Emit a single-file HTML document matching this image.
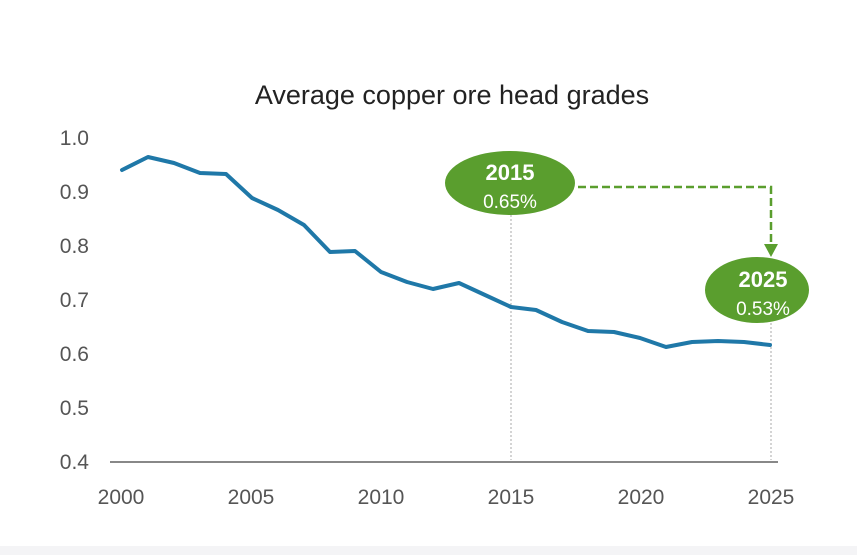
<!DOCTYPE html>
<html><head><meta charset="utf-8"><style>
html,body{margin:0;padding:0;background:#fff;}
svg{display:block;font-family:"Liberation Sans",Arial,sans-serif;}
</style></head><body>
<svg width="857" height="555" viewBox="0 0 857 555" xmlns="http://www.w3.org/2000/svg">
<rect x="0" y="0" width="857" height="555" fill="#fff"/>
<rect x="0" y="546" width="857" height="9" fill="#f4f4f6"/>
<text x="452" y="104" font-size="27" fill="#222" text-anchor="middle">Average copper ore head grades</text>
<g font-size="21" fill="#555" text-anchor="end">
<text x="89" y="145">1.0</text>
<text x="89" y="199">0.9</text>
<text x="89" y="253">0.8</text>
<text x="89" y="307">0.7</text>
<text x="89" y="361">0.6</text>
<text x="89" y="415">0.5</text>
<text x="89" y="469">0.4</text>
</g>
<g font-size="21" fill="#555" text-anchor="middle">
<text x="121" y="504">2000</text>
<text x="251" y="504">2005</text>
<text x="381" y="504">2010</text>
<text x="511" y="504">2015</text>
<text x="641" y="504">2020</text>
<text x="771" y="504">2025</text>
</g>
<line x1="511" y1="215" x2="511" y2="460" stroke="#aaa" stroke-width="1" stroke-dasharray="2,2"/>
<line x1="771" y1="323" x2="771" y2="460" stroke="#aaa" stroke-width="1" stroke-dasharray="2,2"/>
<line x1="110" y1="462" x2="778" y2="462" stroke="#888" stroke-width="2"/>
<polyline fill="none" stroke="#1f78a8" stroke-width="4" stroke-linejoin="round" stroke-linecap="round"
points="122,170 148,157 174,163 200,173 226,174 252,198 278,210 304,225 330,252 355,251 381,272 407,282 433,289 459,283 485,295 511,307 536,310 562,322 588,331 614,332 640,338 666,347 692,342 718,341 744,342 770,345"/>
<polyline fill="none" stroke="#5a9e2e" stroke-width="2.5" stroke-dasharray="8,4" points="578,187 771,187 771,248"/>
<polygon points="764,244 778,244 771,257" fill="#5a9e2e"/>
<ellipse cx="510" cy="183" rx="65" ry="32" fill="#5a9e2e"/>
<ellipse cx="757" cy="290" rx="52" ry="33" fill="#5a9e2e"/>
<g fill="#fff" text-anchor="middle">
<text x="510" y="180" font-size="22" font-weight="bold">2015</text>
<text x="510" y="208" font-size="19">0.65%</text>
<text x="763" y="287" font-size="22" font-weight="bold">2025</text>
<text x="763" y="315" font-size="19">0.53%</text>
</g>
</svg>
</body></html>
